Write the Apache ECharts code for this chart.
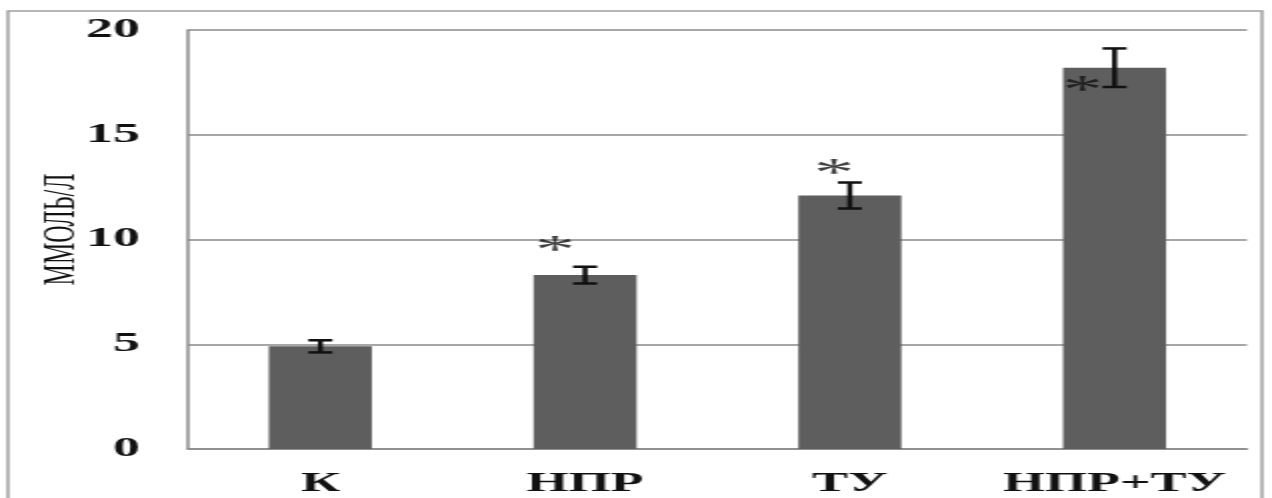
<!DOCTYPE html>
<html>
<head>
<meta charset="utf-8">
<script src="https://cdn.jsdelivr.net/npm/echarts@6/dist/echarts.min.js"></script>
<style>
  html, body { margin: 0; padding: 0; background: #fff; overflow: hidden; }
  #wrap { width: 1272px; height: 498px; overflow: hidden; }
  #chart { width: 636px; height: 498px; transform: scaleX(2); transform-origin: 0 0; }
</style>
</head>
<body>
<div id="wrap"><div id="chart"></div></div>
<script>
// ---- data ----
const categories = ['К', 'НПР', 'ТУ', 'НПР+ТУ'];
const means = [4.9, 8.3, 12.1, 18.2];
const errors = [0.29, 0.4, 0.62, 0.92];
const starValues = [null, 9.8, 13.5, 17.45];
const yTicks = { min: 0, max: 20, interval: 5 };
const yName = 'ММОЛЬ/Л';

// ---- chart ----
const chart = echarts.init(document.getElementById('chart'), null, { renderer: 'canvas' });
const serif = '"Liberation Serif", "Times New Roman", serif';
const starDx = [0, -15, -8, -16];

const option = {
  animation: false,
  backgroundColor: '#fff',
  grid: { left: 94, right: 12.5, top: 30, bottom: 46 },
  graphic: [{
    type: 'rect',
    shape: { x: 4, y: 11, width: 627, height: 520 },
    style: { fill: 'none', stroke: '#a0a0a0', lineWidth: 1.5 },
    silent: true
  }],
  xAxis: {
    type: 'category',
    data: categories,
    axisLine: { show: true, lineStyle: { color: '#8a8a8a', width: 1.5 } },
    axisTick: { show: false },
    axisLabel: {
      interval: 0, hideOverlap: false,
      fontFamily: serif, fontWeight: 'bold', fontSize: 27, color: '#111', margin: 22
    }
  },
  yAxis: {
    type: 'value',
    min: yTicks.min, max: yTicks.max, interval: yTicks.interval,
    name: yName,
    nameLocation: 'middle',
    nameRotate: 90,
    nameGap: 51,
    nameMoveOverlap: false,
    nameTextStyle: { fontFamily: serif, fontSize: 24, color: '#111', padding: [0, 0, 0, 20] },
    axisLine: { show: true, lineStyle: { color: '#8a8a8a', width: 1.5 } },
    axisTick: { show: false },
    splitLine: { show: true, lineStyle: { color: '#8a8a8a', width: 1.5 } },
    axisLabel: { fontFamily: serif, fontWeight: 'bold', fontSize: 27, color: '#111', margin: 24 }
  },
  series: [
    {
      type: 'bar',
      data: means,
      barWidth: 51.5,
      itemStyle: { color: '#5e5e5e' },
      z: 2
    },
    {
      type: 'custom',
      data: means.map((m, i) => [i, m - errors[i], m + errors[i]]),
      renderItem: function (params, api) {
        const lo = api.coord([api.value(0), api.value(1)]);
        const hi = api.coord([api.value(0), api.value(2)]);
        const hw = 6;
        const st = { stroke: '#111', lineWidth: 2.5 };
        return {
          type: 'group',
          children: [
            { type: 'line', shape: { x1: hi[0], y1: hi[1], x2: lo[0], y2: lo[1] }, style: st },
            { type: 'line', shape: { x1: hi[0] - hw, y1: hi[1], x2: hi[0] + hw, y2: hi[1] }, style: st },
            { type: 'line', shape: { x1: lo[0] - hw, y1: lo[1], x2: lo[0] + hw, y2: lo[1] }, style: st }
          ]
        };
      },
      z: 5
    },
    {
      type: 'scatter',
      symbolSize: 1,
      itemStyle: { color: 'rgba(0,0,0,0)' },
      data: starValues.map((v, i) => v == null ? null : {
        value: [i, v],
        label: { offset: [starDx[i], 8] }
      }).filter(d => d),
      label: {
        show: true,
        position: 'inside',
        formatter: '*',
        fontFamily: serif,
        fontSize: 40,
        color: '#111'
      },
      z: 6
    }
  ]
};
chart.setOption(option);
</script>
</body>
</html>
